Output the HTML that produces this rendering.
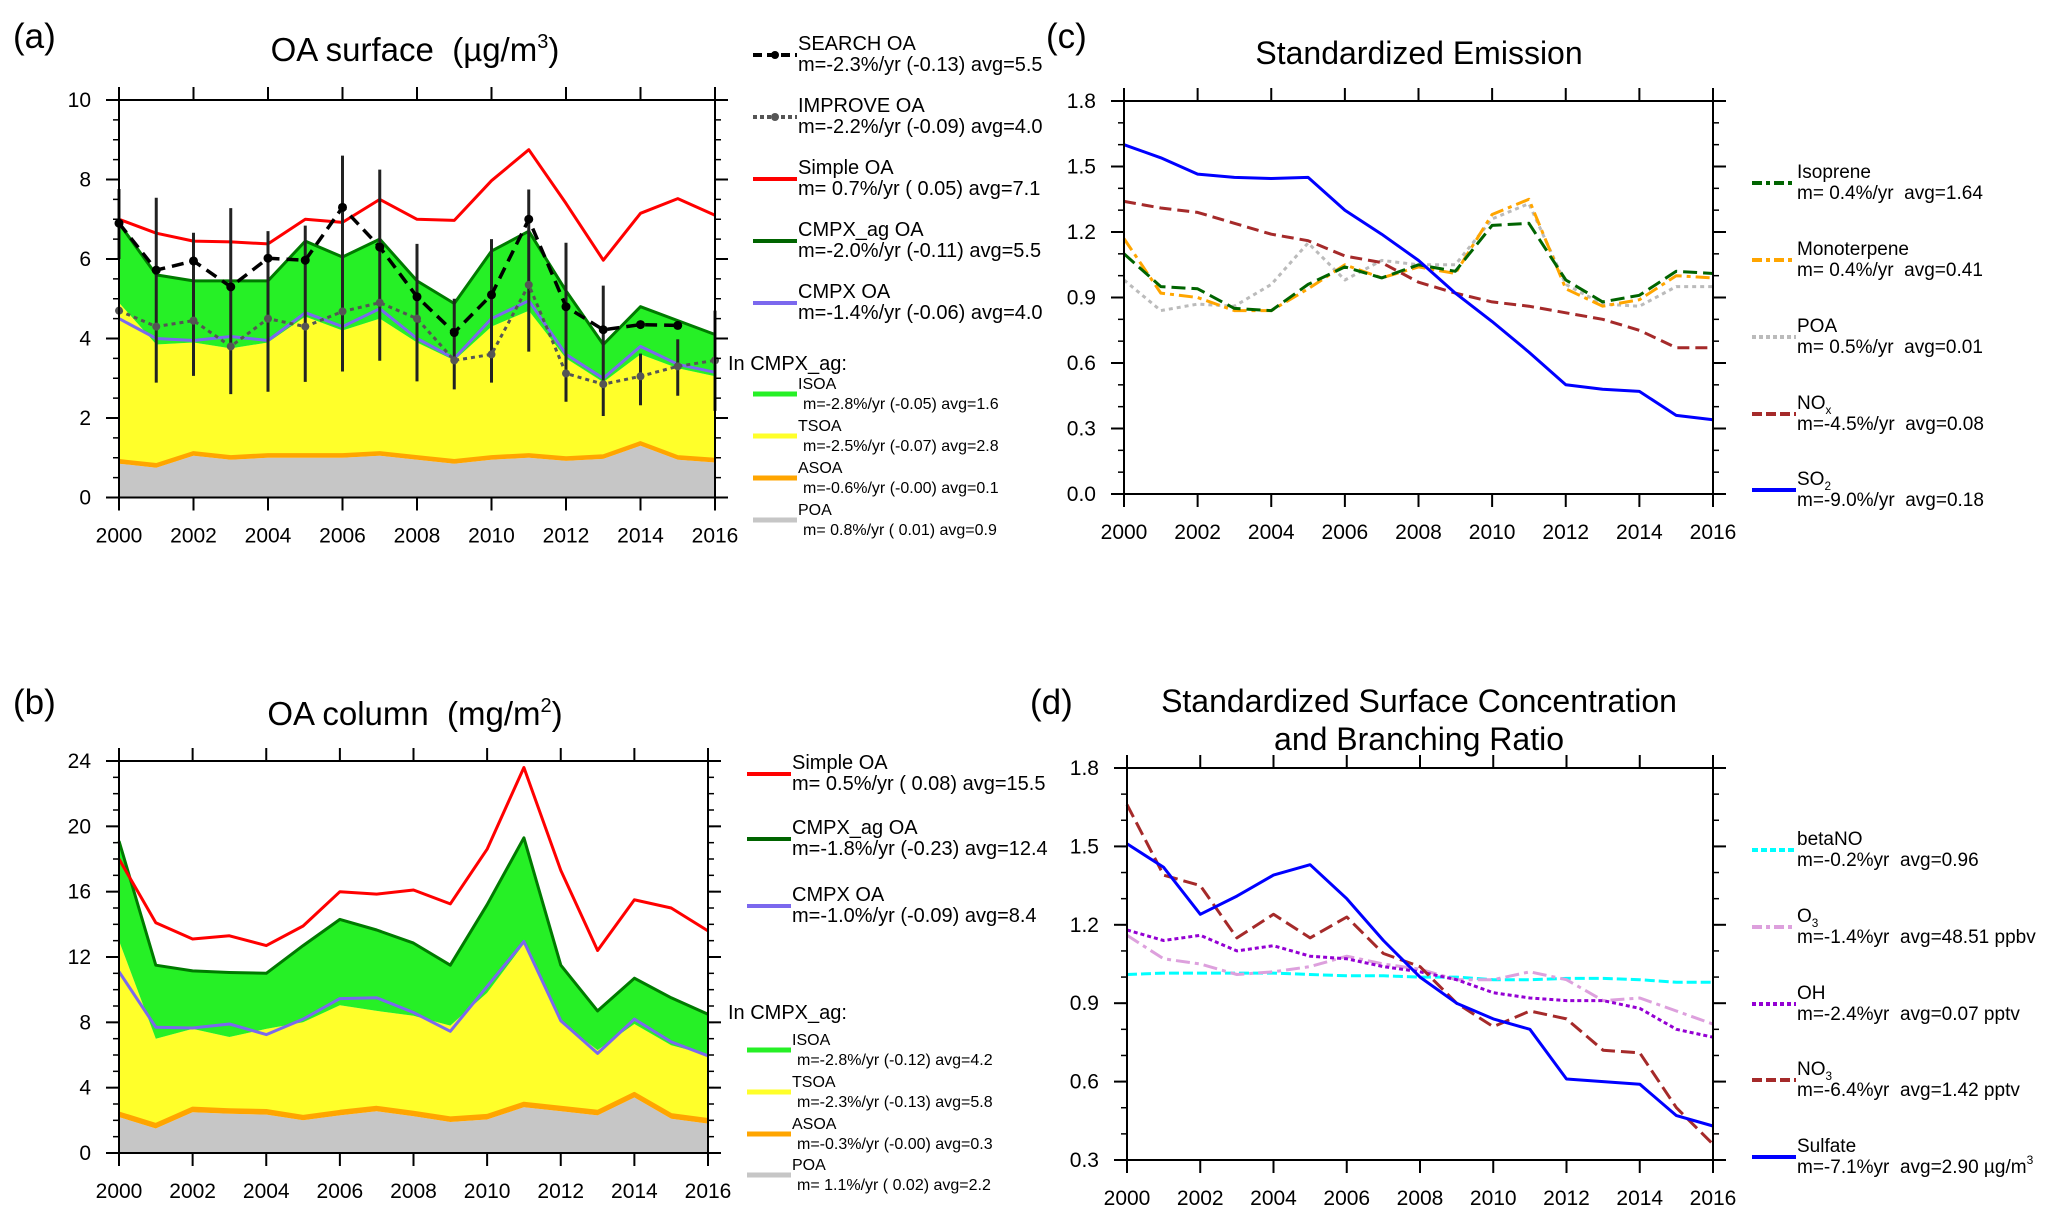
<!DOCTYPE html>
<html><head><meta charset="utf-8"><style>
html,body{margin:0;padding:0;background:#fff;}
svg{display:block;font-family:"Liberation Sans",sans-serif;}
</style></head><body>
<svg id="fig" width="2067" height="1224" viewBox="0 0 2067 1224" xmlns="http://www.w3.org/2000/svg"></svg>
<script>
const years = [2000,2001,2002,2003,2004,2005,2006,2007,2008,2009,2010,2011,2012,2013,2014,2015,2016];
// Panel (a) OA surface
const aSimple = [7.0,6.65,6.45,6.43,6.38,7.0,6.92,7.5,7.0,6.97,7.97,8.75,7.4,5.97,7.15,7.52,7.1];
const aCmpx = [4.5,4.0,3.95,4.05,3.95,4.65,4.3,4.75,4.0,3.5,4.5,4.95,3.6,3.0,3.8,3.35,3.15];
const aPoa = [0.85,0.75,1.05,0.95,1.0,1.0,1.0,1.05,0.95,0.85,0.95,1.0,0.92,0.97,1.3,0.95,0.88];
const aAsoa = [0.08,0.08,0.08,0.08,0.08,0.08,0.08,0.08,0.08,0.08,0.08,0.08,0.08,0.08,0.08,0.08,0.08];
const aTsoa = [3.97,3.02,2.77,2.72,2.82,3.47,3.12,3.37,2.87,2.52,3.27,3.62,2.5,1.85,2.22,2.22,2.09];
const aIsoa = [2.0,1.75,1.55,1.7,1.55,1.9,1.85,2.0,1.55,1.43,1.9,2.0,1.7,0.95,1.2,1.2,1.05];
const aSearch = [6.9,5.72,5.95,5.3,6.02,5.97,7.3,6.3,5.05,4.15,5.1,7.0,4.8,4.22,4.35,4.33,null];
const aImprove = [4.7,4.3,4.45,3.8,4.5,4.3,4.68,4.9,4.5,3.45,3.6,5.35,3.12,2.85,3.05,3.3,3.45];
const aErrLo = [6.0,2.89,3.06,2.6,2.66,2.91,3.17,3.44,2.92,2.72,2.89,3.67,2.41,2.05,2.32,2.56,2.18];
const aErrHi = [7.76,7.54,6.66,7.28,6.7,6.84,8.6,8.25,6.38,5.0,6.5,7.75,6.41,5.33,3.62,3.98,4.7];
// Panel (b) OA column
const bSimple = [18.0,14.1,13.1,13.3,12.7,13.9,16.0,15.85,16.1,15.25,18.6,23.6,17.3,12.4,15.5,15.0,13.6];
const bCmpx = [11.1,7.7,7.65,7.9,7.25,8.2,9.45,9.5,8.6,7.45,10.2,12.95,8.1,6.1,8.2,6.8,5.95];
const bPoa = [2.2,1.5,2.5,2.4,2.35,2.0,2.3,2.55,2.25,1.9,2.05,2.8,2.55,2.3,3.4,2.1,1.8];
const bAsoa = [0.25,0.25,0.25,0.25,0.25,0.25,0.25,0.25,0.25,0.25,0.25,0.25,0.25,0.25,0.25,0.25,0.25];
const bTsoa = [10.55,5.25,4.85,4.45,5.0,5.75,6.5,5.9,5.9,5.65,7.5,9.75,5.2,3.75,4.25,4.25,3.95];
const bIsoa = [6.1,4.5,3.55,3.95,3.4,4.7,5.25,4.95,4.45,3.7,5.4,6.5,3.5,2.4,2.8,2.9,2.5];
// Panel (c) standardized emission
const cIsoprene = [1.10,0.95,0.94,0.85,0.84,0.96,1.04,0.99,1.05,1.02,1.23,1.24,0.98,0.88,0.91,1.02,1.01];
const cMono = [1.17,0.92,0.90,0.84,0.84,0.94,1.05,0.99,1.04,1.01,1.28,1.35,0.94,0.86,0.89,1.00,0.99];
const cPoa = [0.98,0.84,0.87,0.86,0.96,1.15,0.98,1.07,1.05,1.05,1.26,1.33,0.96,0.87,0.86,0.95,0.95];
const cNox = [1.34,1.31,1.29,1.24,1.19,1.16,1.09,1.06,0.97,0.92,0.88,0.86,0.83,0.80,0.75,0.67,0.67];
const cSo2 = [1.60,1.54,1.465,1.45,1.445,1.45,1.30,1.19,1.07,0.92,0.79,0.65,0.50,0.48,0.47,0.36,0.34];
// Panel (d) standardized surface concentration
const dBeta = [1.01,1.015,1.015,1.015,1.015,1.01,1.005,1.005,1.0,1.0,0.99,0.99,0.995,0.995,0.99,0.98,0.98];
const dO3 = [1.16,1.07,1.05,1.01,1.02,1.04,1.08,1.05,1.03,0.99,0.99,1.02,0.99,0.91,0.92,0.87,0.82];
const dOh = [1.18,1.14,1.16,1.10,1.12,1.08,1.07,1.04,1.02,0.99,0.94,0.92,0.91,0.91,0.88,0.80,0.77];
const dNo3 = [1.66,1.39,1.35,1.15,1.24,1.15,1.23,1.09,1.04,0.90,0.81,0.87,0.84,0.72,0.71,0.50,0.36];
const dSulfate = [1.51,1.42,1.24,1.31,1.39,1.43,1.30,1.14,1.00,0.90,0.84,0.80,0.61,0.60,0.59,0.47,0.43];
const xTicks = [2000,2002,2004,2006,2008,2010,2012,2014,2016];

const NS = 'http://www.w3.org/2000/svg';
const svg = document.getElementById('fig');
function mk(tag, attrs, parent){
  const e = document.createElementNS(NS, tag);
  for (const k in attrs) e.setAttribute(k, attrs[k]);
  (parent||svg).appendChild(e);
  return e;
}
function sp(s){ return s.replace(/  /g,' \u00a0'); }
function txt(x,y,s,size,anchor,parent){
  const t = mk('text',{x:x,y:y,'font-size':size,'text-anchor':anchor||'start',fill:'#000'},parent);
  t.textContent = sp(s);
  return t;
}
function panel(P){
  P.x = yr => P.left + (yr-2000)/16*(P.right-P.left);
  P.y = v => P.bottom - (v-P.ymin)/(P.ymax-P.ymin)*(P.bottom-P.top);
  return P;
}
function linePath(P, vals){
  let d=''; let pen=false;
  vals.forEach((v,i)=>{ if(v===null){pen=false;return;} d += (pen?'L':'M')+P.x(years[i]).toFixed(1)+' '+P.y(v).toFixed(1)+' '; pen=true; });
  return d;
}
function drawAxes(P, g){
  const ax = mk('g',{},g);
  
  
  mk('rect',{x:P.left,y:P.top,width:P.right-P.left,height:P.bottom-P.top,fill:'none',stroke:'#000','stroke-width':2},ax);
  for(const v of P.majors){
    const yy = P.y(v);
    mk('line',{x1:P.left-13,x2:P.left,y1:yy,y2:yy,stroke:'#000','stroke-width':2},ax);
    mk('line',{x1:P.right,x2:P.right+13,y1:yy,y2:yy,stroke:'#000','stroke-width':2},ax);
    const t = txt(P.left-28,yy+7,P.fmt(v),21,'end',ax);
    
    
  }
  for(const v of P.minors){
    const yy = P.y(v);
    mk('line',{x1:P.left-6,x2:P.left,y1:yy,y2:yy,stroke:'#000','stroke-width':1.5},ax);
    mk('line',{x1:P.right,x2:P.right+6,y1:yy,y2:yy,stroke:'#000','stroke-width':1.5},ax);
  }
  for(const yr of xTicks){
    const xx = P.x(yr);
    mk('line',{x1:xx,x2:xx,y1:P.top-13,y2:P.top,stroke:'#000','stroke-width':2},ax);
    mk('line',{x1:xx,x2:xx,y1:P.bottom,y2:P.bottom+13,stroke:'#000','stroke-width':2},ax);
    const t = txt(xx,P.bottom+45,String(yr),21,'middle',ax);
    
    
  }
}
function range(a,b,s){const r=[];for(let v=a;v<=b+1e-9;v+=s)r.push(Math.round(v*100)/100);return r;}
function series(P,g,vals,color,width,dash,name){
  const p = mk('path',{d:linePath(P,vals),fill:'none',stroke:color,'stroke-width':width,'stroke-linejoin':'round'},g);
  if(dash) p.setAttribute('stroke-dasharray',dash);
  
  
  return p;
}
function band(P,g,lo,hi,color,name){
  let d='';
  hi.forEach((v,i)=>{d+=(i?'L':'M')+P.x(years[i]).toFixed(1)+' '+P.y(v).toFixed(1)+' ';});
  for(let i=lo.length-1;i>=0;i--) d+='L'+P.x(years[i]).toFixed(1)+' '+P.y(lo[i]).toFixed(1)+' ';
  const p = mk('path',{d:d+'Z',fill:color,stroke:'none'},g);
  
  
}
function cum(arrs){
  const out=[]; let acc=years.map(()=>0);
  out.push(acc.slice());
  for(const a of arrs){acc=acc.map((v,i)=>v+a[i]); out.push(acc.slice());}
  return out;
}
function legendEntry(g,x,ly,color,width,dash,name,line1,line2,fs,x2off,marker){
  const e = mk('g',{},g);
  
  
  const l = mk('line',{x1:x,x2:x+44,y1:ly,y2:ly,stroke:color,'stroke-width':width},e);
  if(dash) l.setAttribute('stroke-dasharray',dash);
  if(marker) mk('circle',{cx:x+22,cy:ly,r:4,fill:color},e);
  const big = fs>=18;
  const t1 = txt(x+45, ly-5, '', fs, 'start', e);
  if(typeof line1==='string') t1.textContent=sp(line1); else line1(t1);
  txt(x+45+(x2off||0), ly+(big?16:15), line2, fs, 'start', e);
}
function sub(t,base,s,up){
  t.textContent='';
  const a=mk('tspan',{},t); a.textContent=base;
  const b=mk('tspan',{'font-size':'62%',dy:up?-8:5},t); b.textContent=s;
}

// ---------- Panel (a)
const gA = mk('g',{});  
const PA = panel({left:119,right:715,top:100,bottom:497.5,ymin:0,ymax:10,majors:range(0,10,2),minors:range(0,10,0.5),fmt:v=>String(v)});
(function(){
  const c = cum([aPoa,aAsoa,aTsoa,aIsoa]);
  band(PA,gA,c[0],c[1],'#c6c6c6','poa-area');
  band(PA,gA,c[1],c[2],'#ffa500','asoa-area');
  band(PA,gA,c[2],c[3],'#ffff2a','tsoa-area');
  band(PA,gA,c[3],c[4],'#26f026','isoa-area');
  series(PA,gA,c[2],'#ffa500',3,null,'asoa-line');
  series(PA,gA,c[4],'#007a00',3,null,'cmpx-ag-oa-line');
  series(PA,gA,aCmpx,'#7b68ee',3,null,'cmpx-oa-line');
  series(PA,gA,aSimple,'#ff0000',3,null,'simple-oa-line');
  aErrLo.forEach((lo,i)=>{
    const b = mk('line',{x1:PA.x(years[i]),x2:PA.x(years[i]),y1:PA.y(lo),y2:PA.y(aErrHi[i]),stroke:'#222','stroke-width':3},gA);
    
    
  });
  series(PA,gA,aImprove,'#555',3,'4 4','improve-oa-line');
  aImprove.forEach((v,i)=>{const c=mk('circle',{cx:PA.x(years[i]),cy:PA.y(v),r:4,fill:'#555'},gA);
     });
  series(PA,gA,aSearch,'#000',3.5,'12 7','search-oa-line');
  aSearch.forEach((v,i)=>{if(v===null)return;const c=mk('circle',{cx:PA.x(years[i]),cy:PA.y(v),r:4.5,fill:'#000'},gA);
     });
})();
drawAxes(PA,gA);
txt(13,48,'(a)',35,'start',gA);
(function(){const t=txt(415,61,'',33,'middle',gA);
  const a=mk('tspan',{},t);a.textContent=sp('OA surface  (\u00b5g/m');const b=mk('tspan',{'font-size':20,dy:-13},t);b.textContent='3';const c=mk('tspan',{dy:13},t);c.textContent=')';})();
const LA = mk('g',{},gA);  
legendEntry(LA,753,55,'#000',4,'9 5','legend-search-oa','SEARCH OA','m=-2.3%/yr (-0.13) avg=5.5',20,0,true);
legendEntry(LA,753,117,'#555',4,'4 3','legend-improve-oa','IMPROVE OA','m=-2.2%/yr (-0.09) avg=4.0',20,0,true);
legendEntry(LA,753,179,'#ff0000',4,null,'legend-simple-oa','Simple OA','m= 0.7%/yr ( 0.05) avg=7.1',20,0);
legendEntry(LA,753,241,'#006400',4,null,'legend-cmpx-ag-oa','CMPX_ag OA','m=-2.0%/yr (-0.11) avg=5.5',20,0);
legendEntry(LA,753,303,'#7b68ee',4,null,'legend-cmpx-oa','CMPX OA','m=-1.4%/yr (-0.06) avg=4.0',20,0);
txt(728,370,'In CMPX_ag:',20,'start',LA);
legendEntry(LA,753,394,'#26f026',5,null,'legend-isoa','ISOA','m=-2.8%/yr (-0.05) avg=1.6',16,5);
legendEntry(LA,753,436,'#ffff2a',5,null,'legend-tsoa','TSOA','m=-2.5%/yr (-0.07) avg=2.8',16,5);
legendEntry(LA,753,478,'#ffa500',5,null,'legend-asoa','ASOA','m=-0.6%/yr (-0.00) avg=0.1',16,5);
legendEntry(LA,753,520,'#c6c6c6',5,null,'legend-poa','POA','m= 0.8%/yr ( 0.01) avg=0.9',16,5);

// ---------- Panel (b)
const gB = mk('g',{});  
const PB = panel({left:119,right:708,top:761,bottom:1153,ymin:0,ymax:24,majors:range(0,24,4),minors:range(0,24,1),fmt:v=>String(v)});
(function(){
  const c = cum([bPoa,bAsoa,bTsoa,bIsoa]);
  band(PB,gB,c[0],c[1],'#c6c6c6','poa-area');
  band(PB,gB,c[1],c[2],'#ffa500','asoa-area');
  band(PB,gB,c[2],c[3],'#ffff2a','tsoa-area');
  band(PB,gB,c[3],c[4],'#26f026','isoa-area');
  series(PB,gB,c[2],'#ffa500',3,null,'asoa-line');
  series(PB,gB,c[4],'#007a00',3,null,'cmpx-ag-oa-line');
  series(PB,gB,bCmpx,'#7b68ee',3,null,'cmpx-oa-line');
  series(PB,gB,bSimple,'#ff0000',3,null,'simple-oa-line');
})();
drawAxes(PB,gB);
txt(13,714,'(b)',35,'start',gB);
(function(){const t=txt(415,725,'',33,'middle',gB);
  const a=mk('tspan',{},t);a.textContent=sp('OA column  (mg/m');const b=mk('tspan',{'font-size':20,dy:-13},t);b.textContent='2';const c=mk('tspan',{dy:13},t);c.textContent=')';})();
const LB = mk('g',{},gB);  
legendEntry(LB,747,774,'#ff0000',4,null,'legend-simple-oa','Simple OA','m= 0.5%/yr ( 0.08) avg=15.5',20,0);
legendEntry(LB,747,839,'#006400',4,null,'legend-cmpx-ag-oa','CMPX_ag OA','m=-1.8%/yr (-0.23) avg=12.4',20,0);
legendEntry(LB,747,906,'#7b68ee',4,null,'legend-cmpx-oa','CMPX OA','m=-1.0%/yr (-0.09) avg=8.4',20,0);
txt(728,1019,'In CMPX_ag:',20,'start',LB);
legendEntry(LB,747,1050,'#26f026',5,null,'legend-isoa','ISOA','m=-2.8%/yr (-0.12) avg=4.2',16,5);
legendEntry(LB,747,1092,'#ffff2a',5,null,'legend-tsoa','TSOA','m=-2.3%/yr (-0.13) avg=5.8',16,5);
legendEntry(LB,747,1134,'#ffa500',5,null,'legend-asoa','ASOA','m=-0.3%/yr (-0.00) avg=0.3',16,5);
legendEntry(LB,747,1175,'#c6c6c6',5,null,'legend-poa','POA','m= 1.1%/yr ( 0.02) avg=2.2',16,5);

// ---------- Panel (c)
const gC = mk('g',{});  
const PC = panel({left:1124,right:1713,top:101,bottom:494,ymin:0,ymax:1.8,majors:range(0,1.8,0.3),minors:range(0,1.8,0.1),fmt:v=>v.toFixed(1)});
series(PC,gC,cPoa,'#bbbbbb',3,'4 4','poa-emission-line');
series(PC,gC,cMono,'#ffa500',3,'14 5 4 5','monoterpene-line');
series(PC,gC,cIsoprene,'#006400',3,'14 6','isoprene-line');
series(PC,gC,cNox,'#a52a2a',3,'12 6','nox-line');
series(PC,gC,cSo2,'#0000ff',3,null,'so2-line');
drawAxes(PC,gC);
txt(1046,48,'(c)',35,'start',gC);
txt(1419,64,'Standardized Emission',32,'middle',gC);
const LC = mk('g',{},gC);  
legendEntry(LC,1752,183,'#006400',4,'10 4 4 4','legend-isoprene','Isoprene','m= 0.4%/yr  avg=1.64',19,0);
legendEntry(LC,1752,260,'#ffa500',4,'10 4 4 4','legend-monoterpene','Monoterpene','m= 0.4%/yr  avg=0.41',19,0);
legendEntry(LC,1752,337,'#bbbbbb',4,'4 3','legend-poa-emission','POA','m= 0.5%/yr  avg=0.01',19,0);
legendEntry(LC,1752,414,'#a52a2a',4,'10 4','legend-nox',t=>sub(t,'NO','x',false),'m=-4.5%/yr  avg=0.08',19,0);
legendEntry(LC,1752,490,'#0000ff',4,null,'legend-so2',t=>sub(t,'SO','2',false),'m=-9.0%/yr  avg=0.18',19,0);

// ---------- Panel (d)
const gD = mk('g',{});  
const PD = panel({left:1127,right:1713,top:768,bottom:1160,ymin:0.3,ymax:1.8,majors:range(0.3,1.8,0.3),minors:range(0.3,1.8,0.1),fmt:v=>v.toFixed(1)});
series(PD,gD,dBeta,'#00ffff',3,'10 4','betano-line');
series(PD,gD,dO3,'#dda0dd',3,'14 5 4 5','o3-line');
series(PD,gD,dOh,'#9400d3',3,'4 3','oh-line');
series(PD,gD,dNo3,'#a52a2a',3,'14 6','no3-line');
series(PD,gD,dSulfate,'#0000ff',3,null,'sulfate-line');
drawAxes(PD,gD);
txt(1030,714,'(d)',35,'start',gD);
txt(1419,712,'Standardized Surface Concentration',32,'middle',gD);
txt(1419,750,'and Branching Ratio',32,'middle',gD);
const LD = mk('g',{},gD);  
legendEntry(LD,1752,850,'#00ffff',4,'6 3','legend-betano','betaNO','m=-0.2%yr  avg=0.96',19,0);
legendEntry(LD,1752,927,'#dda0dd',4,'10 4 4 4','legend-o3',t=>sub(t,'O','3',false),'m=-1.4%yr  avg=48.51 ppbv',19,0);
legendEntry(LD,1752,1004,'#9400d3',4,'4 3','legend-oh','OH','m=-2.4%yr  avg=0.07 pptv',19,0);
legendEntry(LD,1752,1080,'#a52a2a',4,'10 4','legend-no3',t=>sub(t,'NO','3',false),'m=-6.4%yr  avg=1.42 pptv',19,0);
(function(){
  legendEntry(LD,1752,1157,'#0000ff',4,null,'legend-sulfate','Sulfate','',19,0);
  const t=txt(1797,1173,'m=-7.1%yr  avg=2.90 \u00b5g/m',19,'start',LD);
  const s=mk('tspan',{'font-size':12,dy:-9},t); s.textContent='3';
})();
</script>
</body></html>
